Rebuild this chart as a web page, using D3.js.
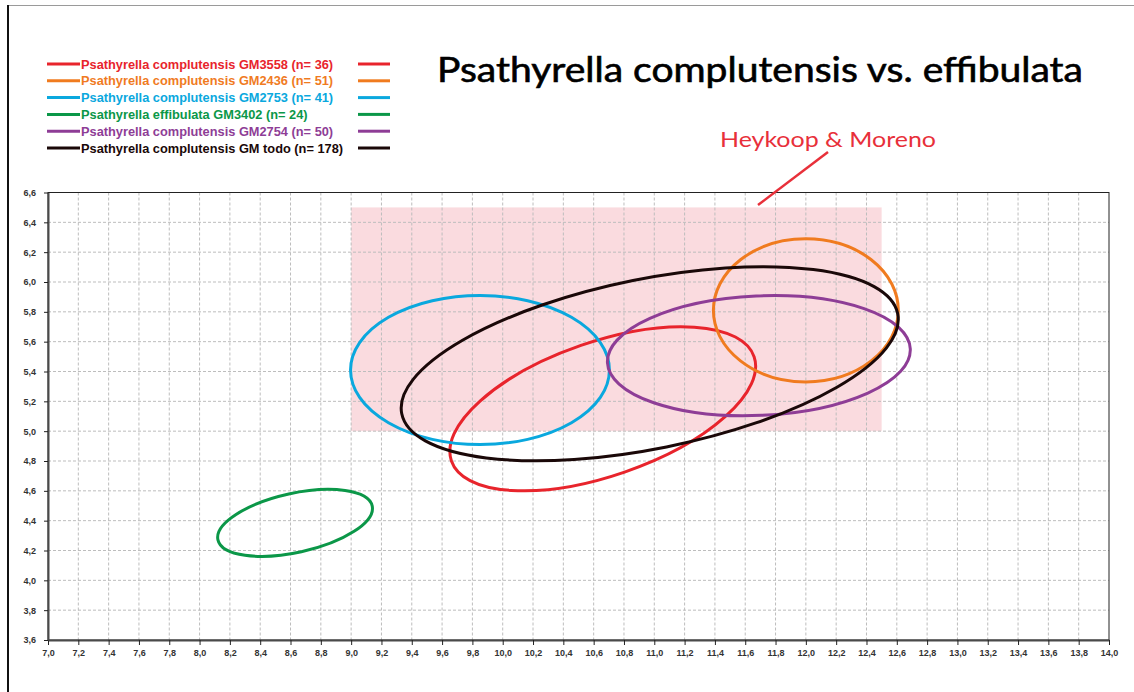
<!DOCTYPE html>
<html>
<head>
<meta charset="utf-8">
<script src="https://cdn.jsdelivr.net/npm/d3@7"></script>
<style>
  html, body { margin: 0; padding: 0; background: #fff; }
  svg { display: block; }
</style>
</head>
<body>
<div id="chart"></div>
<script>
// series (legend order = drawing order)
const seriesNames = [
  'Psathyrella complutensis GM3558 (n= 36)',
  'Psathyrella complutensis GM2436 (n= 51)',
  'Psathyrella complutensis GM2753 (n= 41)',
  'Psathyrella effibulata GM3402 (n= 24)',
  'Psathyrella complutensis GM2754 (n= 50)',
  'Psathyrella complutensis GM todo (n= 178)'
];
const seriesColors = ['#e8242c', '#f07b1f', '#0aa8de', '#0b9748', '#8e3d96', '#1a0808'];
// ellipse centres (x, y), semi axes (x units) and tilt in degrees
const centerX = [10.66, 12.0, 9.85, 8.63, 11.69, 10.97];
const centerY = [5.15, 5.81, 5.41, 4.385, 5.506, 5.452];
const semiMajor = [1.056, 0.61, 0.854, 0.521, 1.0, 1.669];
const semiMinor = [0.442, 0.472, 0.492, 0.195, 0.394, 0.56];
const tilt = [19, 0, 0, 12.4, 2.6, 11.4];

// Heykoop & Moreno range
const rangeX = [9.0, 12.5];
const rangeY = [5.0, 6.5];

const xDomain = [7.0, 14.0];
const yDomain = [3.6, 6.6];

const W = 1134, H = 692;
const svg = d3.select('#chart').append('svg').attr('width', W).attr('height', H);

const x = d3.scaleLinear().domain(xDomain).range([48, 1109]);
const y = d3.scaleLinear().domain(yDomain).range([640, 192.5]);
const comma = d3.formatLocale({ decimal: ',', thousands: '.', grouping: [3], currency: ['', ''] }).format('.1f');

// outer frame
svg.append('line').attr('x1', 8).attr('x2', W).attr('y1', 5.5).attr('y2', 5.5)
  .attr('stroke', '#9a9a9a').attr('stroke-width', 1);
svg.append('line').attr('x1', 8).attr('x2', 8).attr('y1', 5).attr('y2', H)
  .attr('stroke', '#111').attr('stroke-width', 2);

// pink range
svg.append('rect')
  .attr('x', x(rangeX[0])).attr('y', y(rangeY[1]))
  .attr('width', x(rangeX[1]) - x(rangeX[0]))
  .attr('height', y(rangeY[0]) - y(rangeY[1]))
  .attr('fill', '#fadbdf');

// grid
const xt = x.ticks(35), yt = y.ticks(15);
svg.append('g').selectAll('line').data(xt.slice(1, -1)).join('line')
  .attr('x1', d => x(d)).attr('x2', d => x(d)).attr('y1', 192.5).attr('y2', 640)
  .attr('stroke', '#bdbdbd').attr('stroke-dasharray', '3,2').attr('stroke-width', 1);
svg.append('g').selectAll('line').data(yt.slice(1, -1)).join('line')
  .attr('y1', d => y(d)).attr('y2', d => y(d)).attr('x1', 48).attr('x2', 1109)
  .attr('stroke', '#bdbdbd').attr('stroke-dasharray', '3,2').attr('stroke-width', 1);

// plot frame
svg.append('rect').attr('x', 48).attr('y', 192.5).attr('width', 1061).attr('height', 447.5)
  .attr('fill', 'none').attr('stroke', '#222').attr('stroke-width', 1);

// axes
const axX = svg.append('g').attr('transform', 'translate(0,640)')
  .call(d3.axisBottom(x).tickValues(xt).tickFormat(comma).tickSize(5).tickPadding(5).tickSizeOuter(0));
const axY = svg.append('g').attr('transform', 'translate(48,0)')
  .call(d3.axisLeft(y).tickValues(yt).tickFormat(comma).tickSize(4).tickPadding(8).tickSizeOuter(0));
[axX, axY].forEach(a => {
  a.select('.domain').attr('stroke', '#4a4a4a').attr('stroke-width', 2);
  a.selectAll('.tick line').attr('stroke', '#222');
  a.selectAll('text').attr('font-family', 'Liberation Sans, Arial, sans-serif')
    .attr('font-size', 9).attr('font-weight', 'bold').attr('fill', '#333');
});

// ellipses
const ell = svg.append('g');
seriesNames.forEach((n, i) => {
  const cx = x(centerX[i]), cy = y(centerY[i]);
  ell.append('ellipse')
    .attr('cx', cx).attr('cy', cy)
    .attr('rx', x(xDomain[0] + semiMajor[i]) - x(xDomain[0]))
    .attr('ry', x(xDomain[0] + semiMinor[i]) - x(xDomain[0]))
    .attr('transform', 'rotate(' + (-tilt[i]) + ',' + cx + ',' + cy + ')')
    .attr('fill', 'none').attr('stroke', seriesColors[i]).attr('stroke-width', 3);
});

// legend
const lg = svg.append('g');
seriesNames.forEach((n, i) => {
  const ly = 64 + i * 16.8;
  lg.append('line').attr('x1', 47).attr('x2', 80).attr('y1', ly).attr('y2', ly)
    .attr('stroke', seriesColors[i]).attr('stroke-width', 3);
  lg.append('line').attr('x1', 358).attr('x2', 390).attr('y1', ly).attr('y2', ly)
    .attr('stroke', seriesColors[i]).attr('stroke-width', 3);
  lg.append('text').attr('x', 81).attr('y', ly + 4.5)
    .attr('font-family', 'Liberation Sans, Arial, sans-serif').attr('font-size', 12.8)
    .attr('font-weight', 'bold').attr('fill', seriesColors[i]).text(n);
});

// title
svg.append('text').attr('x', 437).attr('y', 82)
  .attr('font-family', 'Lato, sans-serif').attr('font-size', 34)
  .attr('stroke', '#000').attr('stroke-width', 0.6)
  .attr('textLength', 646).attr('lengthAdjust', 'spacingAndGlyphs')
  .attr('fill', '#000').text('Psathyrella complutensis vs. effibulata');

// annotation
svg.append('text').attr('x', 720).attr('y', 147)
  .attr('font-family', 'Lato, sans-serif').attr('font-size', 21)
  .attr('textLength', 216).attr('lengthAdjust', 'spacingAndGlyphs')
  .attr('fill', '#e8303a').text('Heykoop & Moreno');
svg.append('line').attr('x1', 828).attr('y1', 152).attr('x2', 758).attr('y2', 205)
  .attr('stroke', '#e8303a').attr('stroke-width', 2.5);
</script>
</body>
</html>
